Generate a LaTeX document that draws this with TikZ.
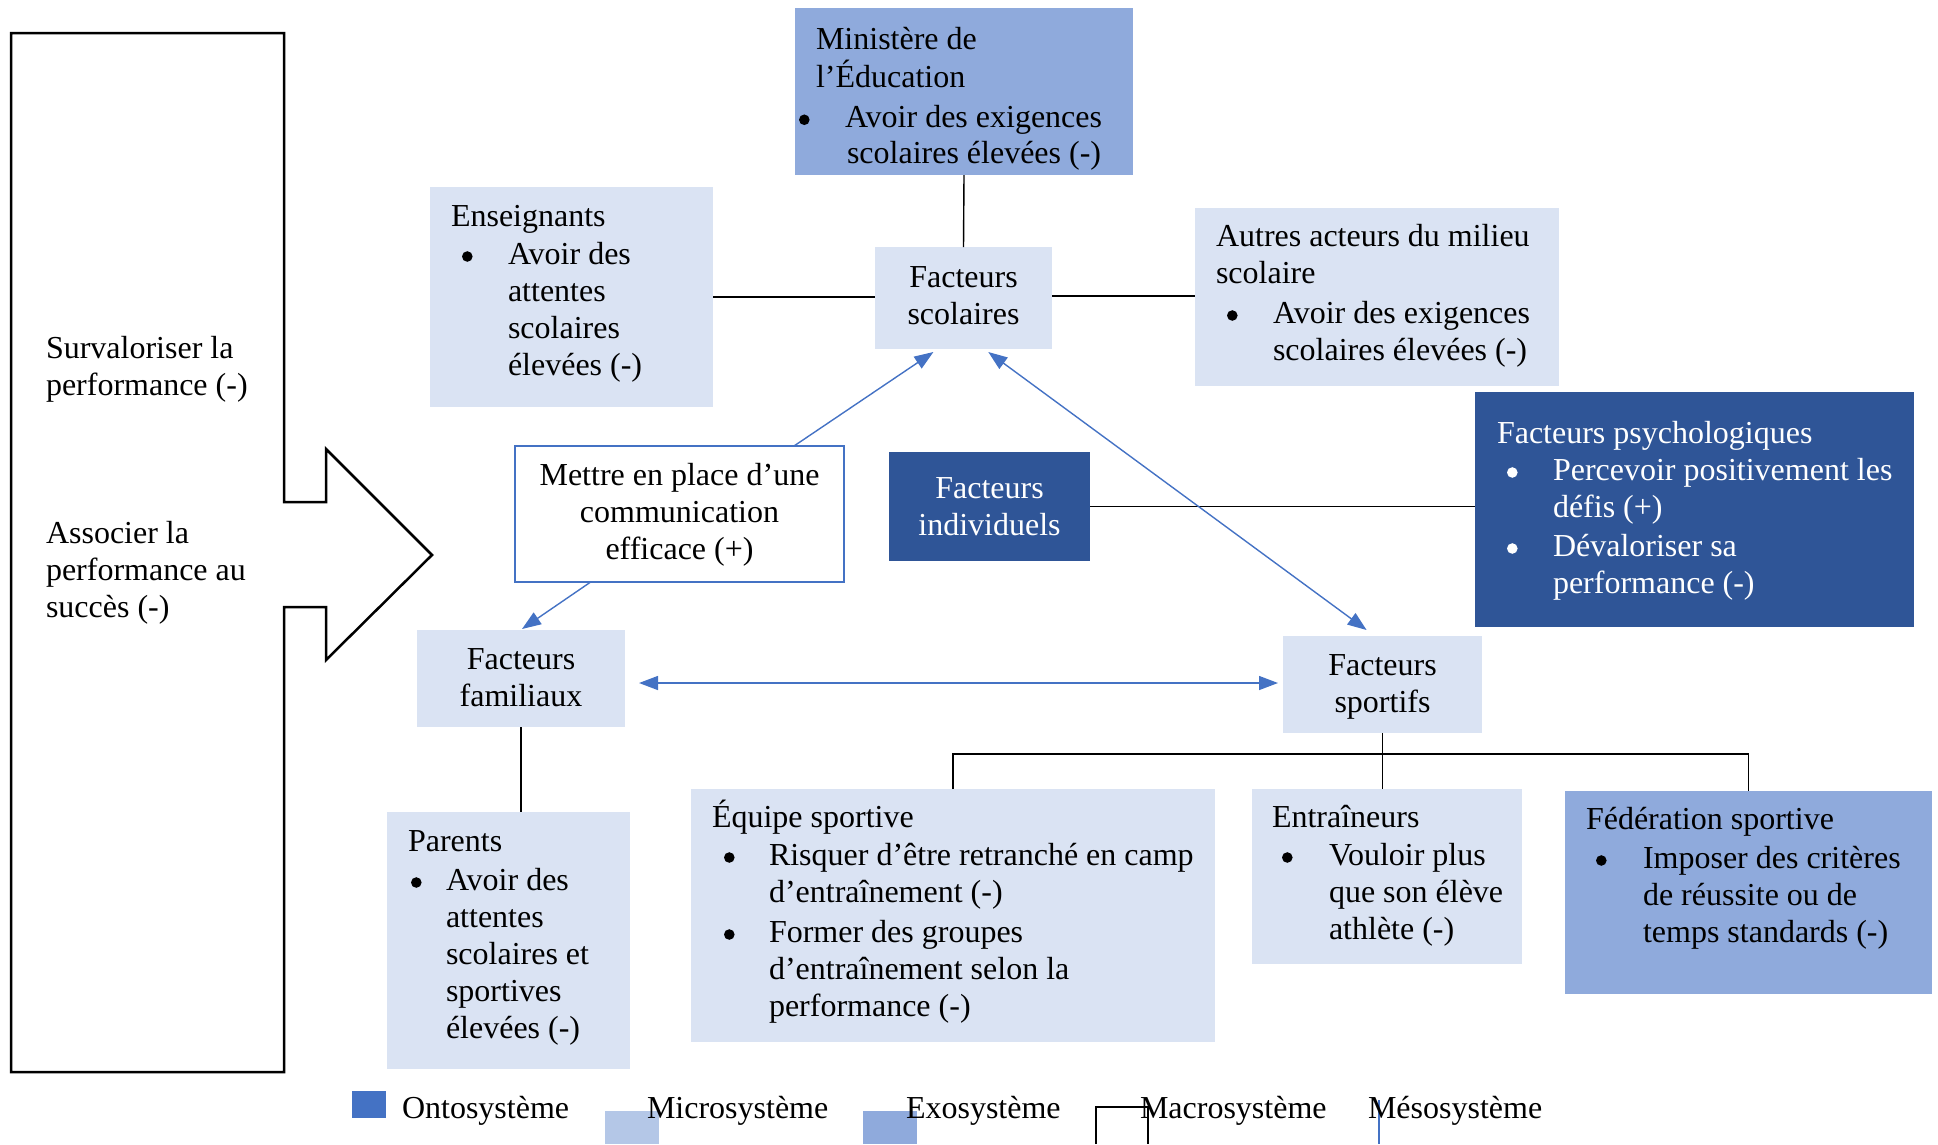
\documentclass[tikz,border=0pt]{standalone}
\usepackage{fontspec}
\setmainfont{Liberation Serif}
\usetikzlibrary{arrows.meta,calc}

\definecolor{micro}{HTML}{DAE3F3}
\definecolor{microkey}{HTML}{B4C7E7}
\definecolor{exo}{HTML}{8FAADC}
\definecolor{onto}{HTML}{4472C4}
\definecolor{indiv}{HTML}{2F5597}

% bullet of a list item: #1 = indent of the bullet, #2 = indent of the item text
\newcommand\puce[2]{\makebox[#2pt][l]{\hspace*{#1pt}\tikz[baseline=0pt]\fill (5.3pt,7.5pt) circle (5.3pt);}}
\newcommand\retrait[1]{\hspace*{#1pt}}
% multi-line texts whose baseline is that of their first line
\newcommand\lignes[1]{\begin{tabular}[t]{@{}l@{}}#1\end{tabular}}
\newcommand\centres[1]{\begin{tabular}[t]{@{}c@{}}#1\end{tabular}}

\begin{document}
\begin{tikzpicture}[x=1pt,y=-1pt,
  panel/.style={draw=none, inner sep=0pt, outer sep=0pt, anchor=north west},
  txt/.style={inner sep=0pt, outer sep=0pt, anchor=base west,
              font=\fontsize{32}{37}\selectfont},
  ctxt/.style={inner sep=0pt, outer sep=0pt, anchor=base,
              font=\fontsize{32}{37}\selectfont},
  link/.style={draw=black, line width=1.4pt},
  flow/.style={draw=onto, line width=1.4pt, -{Triangle[length=19pt,width=14pt]}},
  flowboth/.style={draw=onto, line width=1.4pt,
    {Triangle[length=19pt,width=14pt]}-{Triangle[length=19pt,width=14pt]}},
]
\useasboundingbox (0,0) rectangle (1938,1144);

% ---- macrosystem: large block arrow on the left
\draw[line width=2.5pt, line join=miter]
  (11,33) -- (284,33) -- (284,502) -- (326,502) -- (326,449) -- (432,555)
  -- (326,660) -- (326,607) -- (284,607) -- (284,1072) -- (11,1072) -- cycle;
\node[txt] (macroA) at (46,358) {\lignes{Survaloriser la\\performance (-)}};
\node[txt] (macroB) at (46,543) {\lignes{Associer la\\performance au\\succès (-)}};

% ---- panels
\node[panel, fill=exo,   minimum width=338pt, minimum height=167pt] (min)   at (795,8)    {};
\node[panel, fill=micro, minimum width=177pt, minimum height=102pt] (scol)  at (875,247)  {};
\node[panel, fill=micro, minimum width=283pt, minimum height=220pt] (ens)   at (430,187)  {};
\node[panel, fill=micro, minimum width=364pt, minimum height=178pt] (aut)   at (1195,208) {};
\node[panel, fill=indiv, minimum width=439pt, minimum height=235pt] (psy)   at (1475,392) {};
\node[panel, fill=indiv, minimum width=201pt, minimum height=109pt] (ind)   at (889,452)  {};
\node[panel, fill=white, draw=onto, line width=1.5pt,
      minimum width=329pt, minimum height=136pt]                      (met)   at (515,446)  {};
\node[panel, fill=micro, minimum width=208pt, minimum height=97pt]  (fam)   at (417,630)  {};
\node[panel, fill=micro, minimum width=199pt, minimum height=97pt]  (sport) at (1283,636) {};
\node[panel, fill=micro, minimum width=243pt, minimum height=257pt] (par)   at (387,812)  {};
\node[panel, fill=micro, minimum width=524pt, minimum height=253pt] (eq)    at (691,789)  {};
\node[panel, fill=micro, minimum width=270pt, minimum height=175pt] (ent)   at (1252,789) {};
\node[panel, fill=exo,   minimum width=367pt, minimum height=203pt] (fed)   at (1565,791) {};

% ---- panel texts
\node[txt, font=\fontsize{32}{36}\selectfont] at ($(min.north west)+(21,41)$)
  {\lignes{Ministère de\\ l’Éducation\\[4pt] \puce{-17}{29}Avoir des exigences\\ \retrait{31}scolaires élevées (-)}};
\node[ctxt] at ($(scol.center)+(0,-11)$) {\centres{Facteurs\\scolaires}};
\node[txt] at ($(ens.north west)+(21,39)$)
  {\lignes{Enseignants\\[1pt] \puce{11}{57}Avoir des\\ \retrait{57}attentes\\ \retrait{57}scolaires\\ \retrait{57}élevées (-)}};
\node[txt] at ($(aut.north west)+(21,38)$)
  {\lignes{Autres acteurs du milieu\\ scolaire\\[3pt] \puce{11}{57}Avoir des exigences\\ \retrait{57}scolaires élevées (-)}};
\node[txt, text=white] at ($(psy.north west)+(22,51)$)
  {\lignes{Facteurs psychologiques\\ \puce{10}{56}Percevoir positivement les\\ \retrait{56}défis (+)\\[2pt] \puce{10}{56}Dévaloriser sa\\ \retrait{56}performance (-)}};
\node[ctxt, text=white] at ($(ind.center)+(0,-8.5)$) {\centres{Facteurs\\individuels}};
\node[ctxt] at ($(met.center)+(0,-29)$) {\centres{Mettre en place d’une\\communication\\efficace (+)}};
\node[ctxt] at ($(fam.center)+(0,-9.5)$) {\centres{Facteurs\\familiaux}};
\node[ctxt] at ($(sport.center)+(0,-9.5)$) {\centres{Facteurs\\sportifs}};
\node[txt] at ($(par.north west)+(21,39)$)
  {\lignes{Parents\\[2pt] \puce{3}{38}Avoir des\\ \retrait{38}attentes\\ \retrait{38}scolaires et\\ \retrait{38}sportives\\ \retrait{38}élevées (-)}};
\node[txt] at ($(eq.north west)+(21,38)$)
  {\lignes{Équipe sportive\\[1pt] \puce{12}{57}Risquer d’être retranché en camp\\ \retrait{57}d’entraînement (-)\\[3pt] \puce{12}{57}Former des groupes\\ \retrait{57}d’entraînement selon la\\ \retrait{57}performance (-)}};
\node[txt] at ($(ent.north west)+(20,38)$)
  {\lignes{Entraîneurs\\[1pt] \puce{10}{57}Vouloir plus\\ \retrait{57}que son élève\\ \retrait{57}athlète (-)}};
\node[txt] at ($(fed.north west)+(21,38)$)
  {\lignes{Fédération sportive\\[2pt] \puce{10}{57}Imposer des critères\\ \retrait{57}de réussite ou de\\ \retrait{57}temps standards (-)}};

% ---- plain links
\draw[link] (min.south) -- (scol.north);
\draw[link] (ens.east) -- (ens.east -| scol.west);
\draw[link] ($(scol.east)+(0,-2)$) -- ($(scol.east -| aut.west)+(0,-2)$);
\draw[link] (ind.east) -- (ind.east -| psy.west);
\draw[link] (fam.south) -- (fam.south |- par.north);
\draw[link] (sport.south) -- (sport.south |- ent.north);
\coordinate (bus) at ($(sport.south)+(0,21)$);
\draw[link] (eq.north) |- (bus) -| (fed.north);

% ---- mesosystem arrows
\draw[flow] ($(met.north west)!0.848!(met.north east)$) -- ($(scol.south west)!0.33!(scol.south east)+(0,3)$);
\draw[flow] ($(met.south west)!0.23!(met.south east)$) -- ($(fam.north)+(1,-1)$);
\draw[flowboth] ($(scol.south west)!0.64!(scol.south east)+(0,3)$) -- ($(sport.north west)!0.42!(sport.north east)+(0,-6)$);
\draw[flowboth] ($(fam.east)+(14,4.5)$) -- ($(sport.west)+(-5,-1.5)$);

% ---- key
\node[panel, fill=onto,     minimum width=34pt, minimum height=27pt] (kOnto)  at (352,1091) {};
\node[txt] (lOnto) at (402,1118) {Ontosystème};
\node[panel, fill=microkey, minimum width=54pt, minimum height=33pt] (kMicro) at (605,1111) {};
\node[txt] (lMicro) at (647,1118) {Microsystème};
\node[panel, fill=exo,      minimum width=54pt, minimum height=33pt] (kExo)   at (863,1111) {};
\node[txt] (lExo) at (906,1118) {Exosystème};
\draw[line width=2pt] (1096,1144) -- (1096,1107) -- (1148,1107) -- (1148,1144);
\node[txt] (lMacro) at (1140,1118) {Macrosystème};
\draw[draw=onto, line width=2pt] (1379,1100) -- (1379,1144);
\node[txt] (lMeso) at (1368,1118) {Mésosystème};
\end{tikzpicture}
\end{document}
